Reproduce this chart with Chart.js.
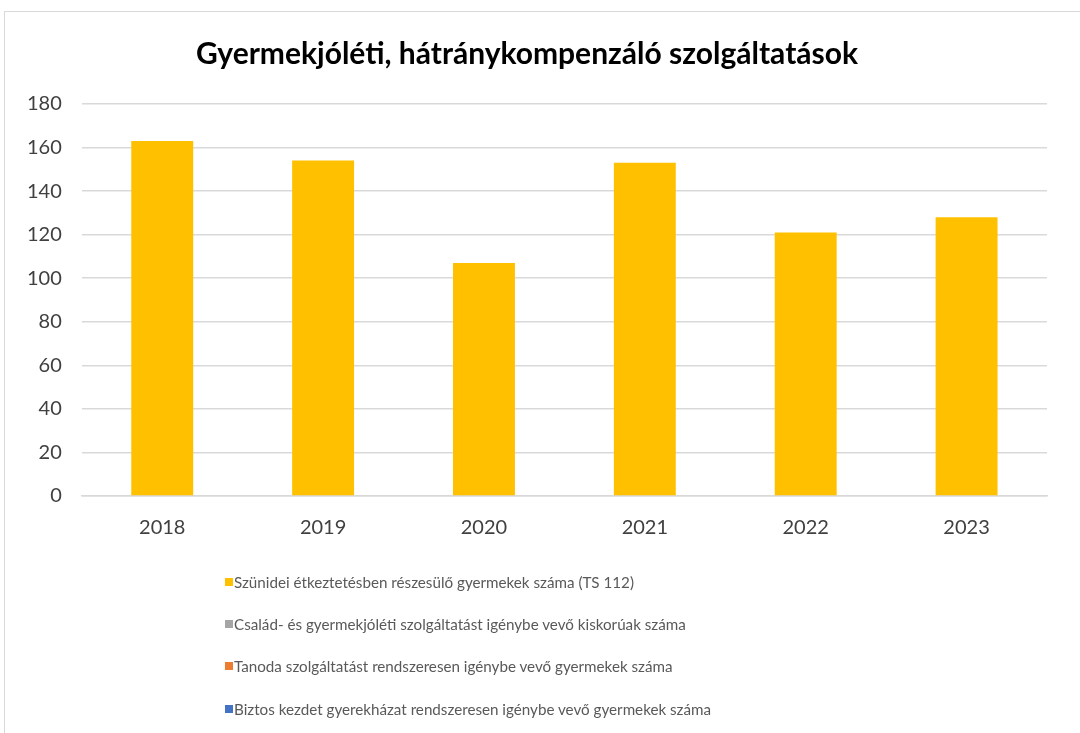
<!DOCTYPE html>
<html>
<head>
<meta charset="utf-8">
<script src="https://cdn.jsdelivr.net/npm/chart.js@4"></script>
<style>
  html, body { margin: 0; padding: 0; background: #fff; }
  #wrap { position: relative; width: 1080px; height: 733px; overflow: hidden; }
  #frame { position: absolute; left: 4px; top: 11px; width: 1120px; height: 800px; border: 1.5px solid #d9d9d9; box-sizing: border-box; }
  #chart { position: absolute; left: 0; top: 0; }
  #legend { position: absolute; left: 225px; top: 561px; font-family: Lato, sans-serif; font-size: 15.2px; color: #595959; }
  #legend div { height: 42.2px; display: flex; align-items: center; white-space: nowrap; }
  #legend span.box { display: inline-block; width: 8px; height: 8px; margin-right: 1px; }
</style>
</head>
<body>
<div id="wrap">
  <div id="frame"></div>
  <canvas id="chart" width="1080" height="733"></canvas>
  <div id="legend"></div>
</div>
<script>
const years = ['2018', '2019', '2020', '2021', '2022', '2023'];
const szunideiEtkeztetes = [163, 154, 107, 153, 121, 128];
const csaladGyermekjoleti = [];
const tanoda = [];
const biztosKezdet = [];
const yTicks = [0, 20, 40, 60, 80, 100, 120, 140, 160, 180];

const seriesNames = [
  'Szünidei étkeztetésben részesülő gyermekek száma (TS 112)',
  'Család- és gyermekjóléti szolgáltatást igénybe vevő kiskorúak száma',
  'Tanoda szolgáltatást rendszeresen igénybe vevő gyermekek száma',
  'Biztos kezdet gyerekházat rendszeresen igénybe vevő gyermekek száma'
];
const seriesColors = ['#FFC000', '#A5A5A5', '#ED7D31', '#4472C4'];
const seriesData = [szunideiEtkeztetes, csaladGyermekjoleti, tanoda, biztosKezdet];

const tickFont = { family: 'Lato, sans-serif', size: 20 };

const ctx = document.getElementById('chart');
const chart = new Chart(ctx, {
  type: 'bar',
  data: {
    labels: years,
    datasets: seriesNames.map((name, i) => ({
      label: name,
      data: seriesData[i],
      backgroundColor: seriesColors[i],
      borderWidth: 0,
      categoryPercentage: 1,
      barPercentage: 0.385
    }))
  },
  options: {
    responsive: false,
    animation: false,
    layout: { padding: { left: 7, right: 33, top: 36, bottom: 173 } },
    scales: {
      x: {
        stacked: true,
        grid: { display: false, drawTicks: false },
        border: { color: '#d9d9d9', width: 1.5 },
        ticks: { color: '#404040', font: tickFont, padding: 20 }
      },
      y: {
        stacked: true,
        min: 0,
        max: 180,
        afterBuildTicks: axis => { axis.ticks = yTicks.map(v => ({ value: v })); },
        grid: { color: '#d9d9d9', lineWidth: 1.5, drawTicks: false },
        border: { display: false },
        ticks: { color: '#404040', font: tickFont, padding: 20 }
      }
    },
    plugins: {
      legend: { display: false },
      tooltip: { enabled: false },
      title: {
        display: true,
        text: 'Gyermekjóléti, hátránykompenzáló szolgáltatások',
        color: '#000',
        font: { family: 'Lato, sans-serif', size: 30, weight: 'bold' },
        padding: { top: 0, bottom: 32 }
      }
    }
  }
});

const legendEl = document.getElementById('legend');
chart.data.datasets.forEach(ds => {
  const row = document.createElement('div');
  row.innerHTML = `<span class="box" style="background:${ds.backgroundColor}"></span>${ds.label}`;
  legendEl.appendChild(row);
});
</script>
</body>
</html>
